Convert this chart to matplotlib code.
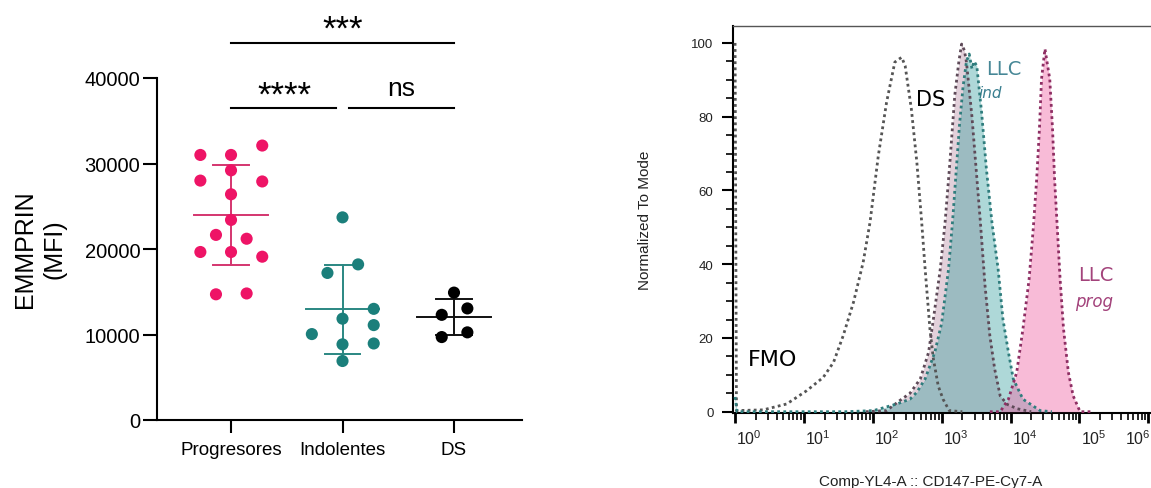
import numpy as np
import matplotlib
matplotlib.use('Agg')
import matplotlib.pyplot as plt
from matplotlib.ticker import LogLocator, MultipleLocator, NullFormatter
from matplotlib.transforms import offset_copy

plt.rcParams['font.family'] = ['Liberation Sans', 'DejaVu Sans']
plt.rcParams['mathtext.fontset'] = 'custom'
plt.rcParams['mathtext.rm'] = 'Liberation Sans'

# EMMPRIN MFI per patient group
groups = ['Progresores', 'Indolentes', 'DS']
progresores = [31000, 31000, 32100, 29200, 28000, 27900, 26400, 23400,
               21650, 21200, 19650, 19650, 19100, 14700, 14800]
indolentes = [23700, 18200, 17200, 13000, 11850, 11100, 10050, 8850, 8950, 6900]
ds = [14900, 12300, 13050, 9700, 10250]

# horizontal spread of the dots inside each column
prog_dx = [-0.275, 0, 0.28, 0, -0.275, 0.28, 0, 0, -0.135, 0.14, -0.275, 0, 0.28, -0.135, 0.14]
ind_dx = [0, 0.14, -0.135, 0.28, 0, 0.28, -0.275, 0, 0.28, 0]
ds_dx = [0, -0.11, 0.12, -0.11, 0.12]

dot_colors = ['#ee1466', '#1b7f7b', '#000000']
bar_colors = ['#d4356f', '#2a8782', '#111111']

# histogram traces (log10 of fluorescence, % of mode)
fmo_exp = [0.0, 0.02, 0.41, 0.75, 1.04, 1.28, 1.43, 1.57, 1.72, 1.86, 1.96, 2.08, 2.20, 2.32,
           2.37, 2.42, 2.47, 2.56, 2.64, 2.71, 2.76, 2.83, 2.88, 2.95, 3.02, 3.11, 3.30]
fmo_pct = [100, 0.3, 0.5, 2.1, 5.7, 9.3, 13.4, 20.6, 29.7, 40.5, 51.4, 69.4, 83.9, 94.8,
           95.5, 96.1, 93.8, 82.1, 67.6, 51.4, 38.7, 22.4, 14.3, 7.0, 3.4, 0.3, 0]

ds_exp = [1.9, 2.2, 2.39, 2.54, 2.69, 2.81, 2.88, 2.98, 3.05, 3.12, 3.19, 3.25, 3.29, 3.33,
          3.36, 3.44, 3.50, 3.56, 3.63, 3.70, 3.77, 3.85, 3.95, 4.1, 4.3]
ds_pct = [0, 0.3, 3.0, 5.0, 8.9, 16.1, 25.1, 38.7, 51.4, 67.7, 85.7, 95, 99.7, 98,
          94.8, 80, 66, 52, 34.2, 20.6, 11.6, 4.3, 2.0, 0.8, 0]

ind_exp = [0.0, 0.03, 1.6, 2.01, 2.35, 2.54, 2.64, 2.76, 2.83, 2.90, 3.00, 3.10, 3.16, 3.21,
           3.26, 3.31, 3.36, 3.40, 3.44, 3.47, 3.51, 3.58, 3.65, 3.73, 3.82, 3.89, 3.97,
           4.04, 4.18, 4.43, 4.6]
ind_pct = [4, 0, 0, 0.3, 2.1, 3.4, 5.3, 8.9, 12.5, 16.1, 24, 38.7, 52, 65,
           78, 88, 95, 97, 93, 95, 93.8, 81.2, 65.8, 51.4, 38.7, 25.1, 16.1,
           8.9, 3.4, 0.3, 0]

prog_exp = [3.7, 3.85, 3.97, 4.09, 4.18, 4.27, 4.33, 4.38, 4.42, 4.45, 4.50, 4.57, 4.61,
            4.64, 4.68, 4.72, 4.77, 4.84, 4.91, 5.01, 5.2]
prog_pct = [0, 0, 3.4, 10.7, 22.4, 36.0, 49.6, 63.1, 76.7, 90.2, 98.4, 90.2, 76.7,
            63.1, 49.6, 36.0, 22.4, 10.7, 4.3, 0, 0]

W, H = 1151, 489
fig = plt.figure(figsize=(W / 100, H / 100), dpi=100)

# ---------------- scatter panel ----------------
ax = fig.add_axes([157 / W, 1 - 421 / H, (522 - 157) / W, (421 - 79) / H])
for i, (vals, dx) in enumerate([(progresores, prog_dx), (indolentes, ind_dx), (ds, ds_dx)]):
    vals = np.array(vals, dtype=float)
    m = vals.mean()
    sd = vals.std(ddof=1)
    c = bar_colors[i]
    ax.plot([i - 0.33, i + 0.33], [m, m], color=c, lw=1.4, zorder=2)
    ax.plot([i, i], [m - sd, m + sd], color=c, lw=1.4, zorder=2)
    for yy in (m - sd, m + sd):
        ax.plot([i - 0.16, i + 0.16], [yy, yy], color=c, lw=1.4, zorder=2)
    ax.scatter(i + np.array(dx), vals, s=76, color=dot_colors[i], edgecolors='none', zorder=3)

ax.set_xlim(-0.664, 2.61)
ax.set_ylim(0, 40000)
ax.set_yticks([0, 10000, 20000, 30000, 40000])
ax.set_xticks(range(3))
ax.set_xticklabels(groups, fontsize=13.5)
ax.tick_params(axis='y', labelsize=14.5, length=10, width=1.5, pad=2)
ax.tick_params(axis='x', length=9, width=1.5, pad=6)
for s in ('top', 'right'):
    ax.spines[s].set_visible(False)
for s in ('left', 'bottom'):
    ax.spines[s].set_linewidth(1.5)

fig.text(40 / W, 1 - 249 / H, 'EMMPRIN\n(MFI)', rotation=90, ha='center', va='center',
         fontsize=18, linespacing=1.3)

# significance brackets
ax.plot([0, 2], [44100, 44100], color='black', lw=1.5, clip_on=False)
ax.plot([0, 0.94], [36500, 36500], color='black', lw=1.5, clip_on=False)
ax.plot([1.06, 2], [36500, 36500], color='black', lw=1.5, clip_on=False)
ax.text(1.0, 44600, '***', ha='center', va='baseline', fontsize=25, clip_on=False)
ax.text(0.475, 36900, '****', ha='center', va='baseline', fontsize=25, clip_on=False)
ax.text(1.53, 38000, 'ns', ha='center', va='baseline', fontsize=19, clip_on=False)

# ---------------- histogram panel ----------------
bx = fig.add_axes([733 / W, 1 - 414 / H, 1 - 733 / W, (414 - 27) / H])
dots = (0, (1, 1.2))

x = 10 ** np.array(fmo_exp)
bx.plot(x, fmo_pct, color='#555555', lw=2, ls=dots, zorder=4)

x = 10 ** np.array(ds_exp)
bx.fill_between(x, ds_pct, color='#a06585', alpha=0.3, lw=0, zorder=1)
bx.plot(x, ds_pct, color='#5e4a58', lw=2, ls=dots, zorder=4)

x = 10 ** np.array(ind_exp)
bx.fill_between(x, ind_pct, color='#2a9a9a', alpha=0.38, lw=0, zorder=2)
bx.plot(x, ind_pct, color='#2f7d7d', lw=2, ls=dots, zorder=4)

x = 10 ** np.array(prog_exp)
bx.fill_between(x, prog_pct, color='#f06aa8', alpha=0.45, lw=0, zorder=3)
bx.plot(x, prog_pct, color='#8e2e63', lw=2, ls=dots, zorder=4)

bx.set_xscale('log')
bx.set_xlim(10 ** -0.03, 10 ** 6.04)
bx.set_ylim(-0.35, 104.6)

bx.set_yticks([0, 20, 40, 60, 80, 100])
bx.yaxis.set_minor_locator(MultipleLocator(5))
bx.tick_params(axis='y', which='major', labelsize=9.5, length=8, width=1.5, pad=6, labelcolor='#222222')
bx.tick_params(axis='y', which='minor', length=5, width=1.2)

decades = [1, 10, 100, 1000, 10000, 100000, 1000000]
bx.set_xticks(decades)
bx.set_xticklabels([])
bx.xaxis.set_minor_locator(LogLocator(base=10, subs=range(2, 10)))
bx.xaxis.set_minor_formatter(NullFormatter())
bx.tick_params(axis='x', which='major', length=7, width=2)
bx.tick_params(axis='x', which='minor', length=5, width=1.2)
lab_tr = offset_copy(bx.get_xaxis_transform(), fig=fig, x=14, y=0, units='dots')
last_tr = offset_copy(bx.get_xaxis_transform(), fig=fig, x=2, y=0, units='dots')
for k, d in enumerate(decades):
    if k == len(decades) - 1:
        bx.text(d, -25 / 387, r'$10^{%d}$' % k, transform=last_tr, ha='right', va='center',
                fontsize=11.5, color='#222222', clip_on=False)
    else:
        bx.text(d, -25 / 387, r'$10^{%d}$' % k, transform=lab_tr, ha='center', va='center',
                fontsize=11.5, color='#222222', clip_on=False)

bx.spines['right'].set_visible(False)
bx.spines['top'].set_linewidth(1.0)
bx.spines['top'].set_color('#555555')
bx.spines['left'].set_linewidth(1.5)
bx.spines['bottom'].set_linewidth(1.5)

fig.text(645 / W, 1 - 220 / H, 'Normalized To Mode', rotation=90, ha='center', va='center',
         fontsize=11, color='#222222')
fig.text(931 / W, 1 - 475 / H, 'Comp-YL4-A :: CD147-PE-Cy7-A', ha='center', va='top',
         fontsize=11, color='#222222')

bx.text(10 ** 0.55, 14.3, 'FMO', family='DejaVu Sans', fontsize=16, ha='center', va='center')
bx.text(10 ** 2.845, 84.7, 'DS', family='DejaVu Sans', fontsize=15, ha='center', va='center')
bx.text(10 ** 3.65, 93.2, 'LLC', family='DejaVu Sans', fontsize=14, color='#468796',
        ha='left', va='center')
bx.text(10 ** 3.53, 86.6, 'ind', family='DejaVu Sans', style='italic', fontsize=11,
        color='#3a7f90', ha='left', va='center')
bx.text(10 ** 4.98, 37.3, 'LLC', family='DejaVu Sans', fontsize=14, color='#a3437b',
        ha='left', va='center')
bx.text(10 ** 4.93, 29.9, 'prog', family='DejaVu Sans', style='italic', fontsize=12,
        color='#a3437b', ha='left', va='center')

fig.savefig('out.png', dpi=100)
